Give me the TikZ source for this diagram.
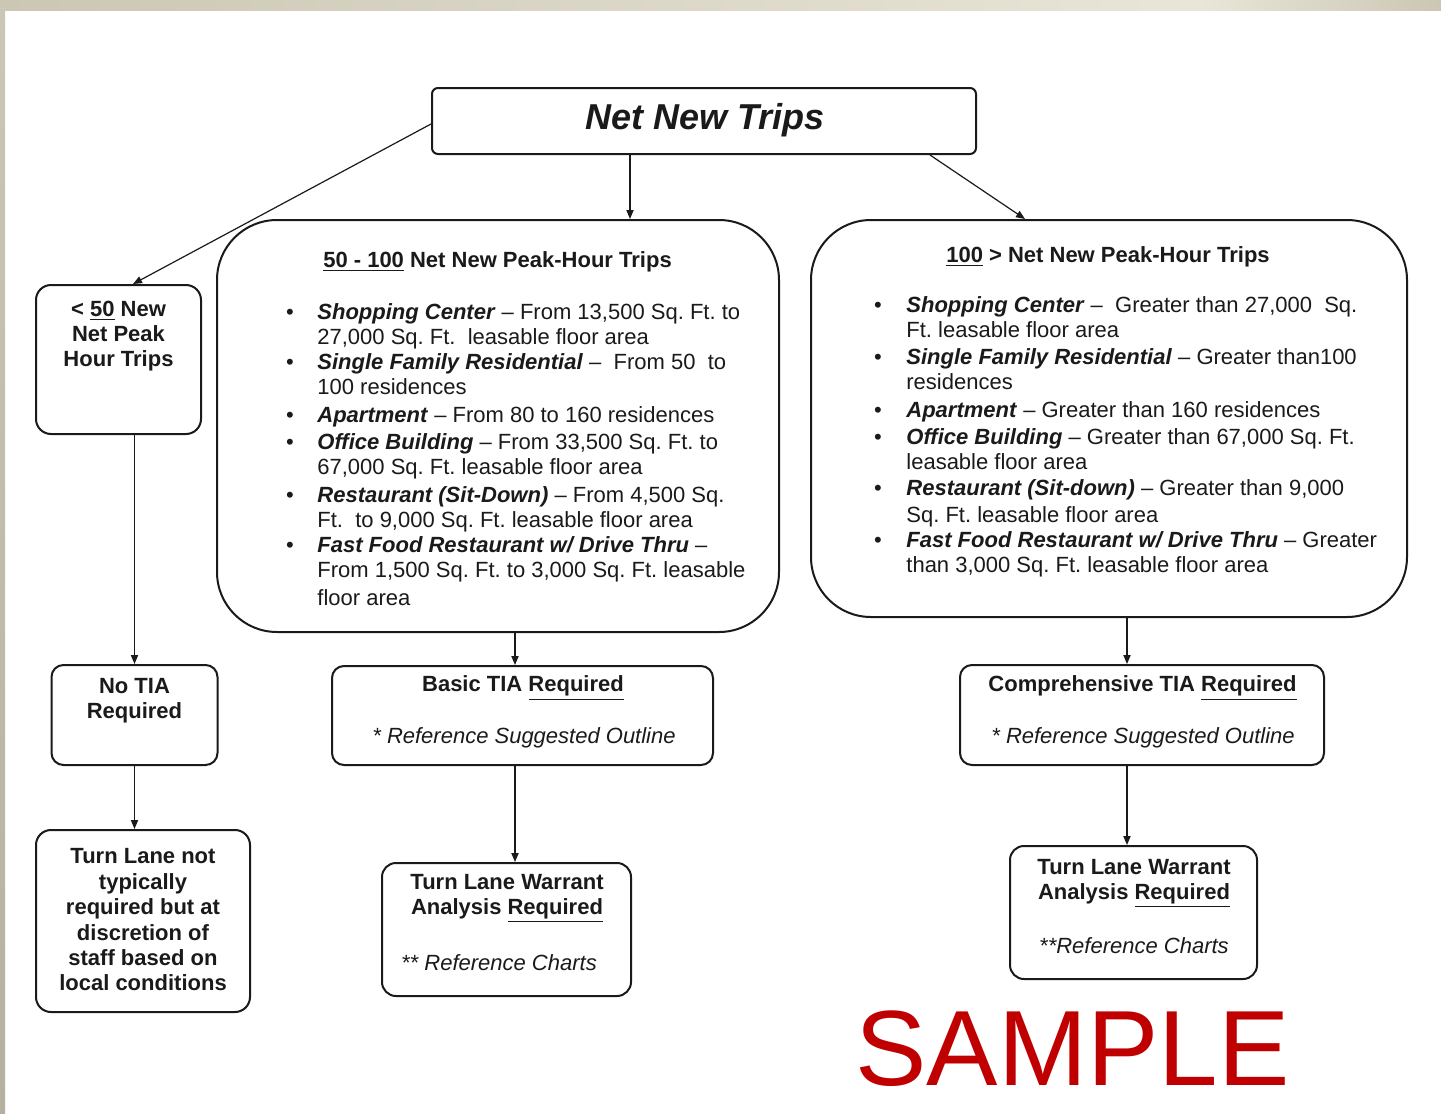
\documentclass[tikz,border=0pt]{standalone}
\usepackage{fontspec}
\setmainfont{Liberation Sans}
\usetikzlibrary{arrows.meta}
\definecolor{sampred}{HTML}{C00000}
\definecolor{bandA}{HTML}{CCC7B4}
\definecolor{bandB}{HTML}{E9E5D8}
\definecolor{edgeC}{HTML}{B5B19E}
\definecolor{ink}{HTML}{1A1A1A}
\tikzset{
  box/.style={draw=ink, line width=1pt, fill=white, inner sep=0pt},
  arr/.style={draw=ink, line width=0.6pt, -{Triangle[length=4.5pt,width=3.6pt]}},
  txt/.style={inner sep=0pt, font=\fontsize{11}{12.5}\selectfont, text=ink},
  btxt/.style={txt, font=\fontsize{11}{12.5}\selectfont\bfseries, align=center},
  ln/.style={txt, anchor=base west},
  bul/.style={txt, anchor=base},
}
\newcommand{\bi}[1]{\textbf{\textit{#1}}}
\frenchspacing
\begin{document}
\begin{tikzpicture}[x=0.5pt,y=-0.5pt]
\useasboundingbox (0,0) rectangle (1441,1114);
% page background and border bands
\fill[white] (0,0) rectangle (1441,1114);
\shade[left color=bandA, right color=bandB] (0,0) rectangle (1200,10);
\shade[left color=bandB, right color=bandA] (1200,0) rectangle (1441,10);
\shade[top color=bandA, bottom color=edgeC] (0,0) rectangle (5,1114);

% boxes
\node[box, rounded corners=3pt, minimum width=272pt, minimum height=33pt] (top) at (704,121) {};
\node[box, rounded corners=7.5pt, minimum width=82.5pt, minimum height=74.5pt] (lt) at (118.5,359.5) {};
\node[box, rounded corners=30pt, minimum width=281pt, minimum height=206pt] (mid) at (498,426) {};
\node[box, rounded corners=30pt, minimum width=298pt, minimum height=198.5pt] (rt) at (1109,418.5) {};
\node[box, rounded corners=6pt, minimum width=83pt, minimum height=50pt] (notia) at (134.5,715) {};
\node[box, rounded corners=6pt, minimum width=190.5pt, minimum height=49.5pt] (basic) at (522.5,715.5) {};
\node[box, rounded corners=6pt, minimum width=182pt, minimum height=50pt] (comp) at (1142,715) {};
\node[box, rounded corners=7.5pt, minimum width=107pt, minimum height=91pt] (tla) at (143,921) {};
\node[box, rounded corners=7pt, minimum width=124.5pt, minimum height=66.5pt] (tlb) at (506.5,929.5) {};
\node[box, rounded corners=7pt, minimum width=123.5pt, minimum height=66.5pt] (tlc) at (1133.5,912.5) {};

% connectors
\draw[arr] ([yshift=-1.5pt]top.west) -- ([xshift=7.25pt]lt.north);
\draw[arr] ([xshift=-37pt]top.south) -- ([xshift=66pt]mid.north);
\draw[arr] ([xshift=113pt]top.south) -- ([xshift=-42pt]rt.north);
\draw[arr] (notia.north |- lt.south) -- (notia.north);
\draw[arr] ([xshift=-3.75pt]basic.north |- mid.south) -- ([xshift=-3.75pt]basic.north);
\draw[arr] ([xshift=-7.5pt]comp.north |- rt.south) -- ([xshift=-7.5pt]comp.north);
\draw[arr] (notia.south) -- (notia.south |- tla.north);
\draw[arr] ([xshift=-3.75pt]basic.south) -- ([xshift=-3.75pt]basic.south |- tlb.north);
\draw[arr] ([xshift=-7.5pt]comp.south) -- ([xshift=-7.5pt]comp.south |- tlc.north);

% top title
\node[txt, font=\fontsize{18}{20}\selectfont\bfseries\itshape] (toptxt) at (705,120) {Net New Trips};

% left box text
\node[btxt] (lttxt) at (118.5,336) {< \underline{50} New\\Net Peak\\Hour Trips};

% middle box
\node[txt, anchor=base, font=\fontsize{11}{12.5}\selectfont\bfseries] (mtitle) at (497.5,267) {\underline{50 - 100} Net New Peak-Hour Trips};
\node[bul] (mb1) at (290,319) {•};
\node[bul] (mb2) at (290,369) {•};
\node[bul] (mb3) at (290,422) {•};
\node[bul] (mb4) at (290,449) {•};
\node[bul] (mb5) at (290,502) {•};
\node[bul] (mb6) at (290,552) {•};
\node[ln] (m1a) at (317,319) {\bi{Shopping Center} – From 13,500 Sq. Ft. to};
\node[ln] (m1b) at (317,344) {27,000 Sq. Ft.\ \ leasable floor area};
\node[ln] (m2a) at (317,369) {\bi{Single Family Residential} –\ \ From 50\ \ to};
\node[ln] (m2b) at (317,394) {100 residences};
\node[ln] (m3a) at (317,422) {\bi{Apartment} – From 80 to 160 residences};
\node[ln] (m4a) at (317,449) {\bi{Office Building} – From 33,500 Sq. Ft. to};
\node[ln] (m4b) at (317,474) {67,000 Sq. Ft. leasable floor area};
\node[ln] (m5a) at (317,502) {\bi{Restaurant (Sit-Down)} – From 4,500 Sq.};
\node[ln] (m5b) at (317,527) {Ft.\ \ to 9,000 Sq. Ft. leasable floor area};
\node[ln] (m6a) at (317,552) {\bi{Fast Food Restaurant w/ Drive Thru} –};
\node[ln] (m6b) at (317,577) {From 1,500 Sq. Ft. to 3,000 Sq. Ft. leasable};
\node[ln] (m6c) at (317,605) {floor area};

% right box
\node[txt, anchor=base, font=\fontsize{11}{12.5}\selectfont\bfseries] (rtitle) at (1108,262) {\underline{100} > Net New Peak-Hour Trips};
\node[bul] (rb1) at (878,312) {•};
\node[bul] (rb2) at (878,364) {•};
\node[bul] (rb3) at (878,417) {•};
\node[bul] (rb4) at (878,444) {•};
\node[bul] (rb5) at (878,495) {•};
\node[bul] (rb6) at (878,547) {•};
\node[ln] (r1a) at (906,312) {\bi{Shopping Center} –\ \ Greater than 27,000\ \ Sq.};
\node[ln] (r1b) at (906,337) {Ft. leasable floor area};
\node[ln] (r2a) at (906,364) {\bi{Single Family Residential} – Greater than100};
\node[ln] (r2b) at (906,389) {residences};
\node[ln] (r3a) at (906,417) {\bi{Apartment} – Greater than 160 residences};
\node[ln] (r4a) at (906,444) {\bi{Office Building} – Greater than 67,000 Sq. Ft.};
\node[ln] (r4b) at (906,469) {leasable floor area};
\node[ln] (r5a) at (906,495) {\bi{Restaurant (Sit-down)} – Greater than 9,000};
\node[ln] (r5b) at (906,522) {Sq. Ft. leasable floor area};
\node[ln] (r6a) at (906,547) {\bi{Fast Food Restaurant w/ Drive Thru} – Greater};
\node[ln] (r6b) at (906,572) {than 3,000 Sq. Ft. leasable floor area};

% second row texts
\node[btxt] (notiatxt) at (134.5,700.5) {No TIA\\Required};
\node[btxt] (basictxt) at (523,688) {Basic TIA \underline{Required}};
\node[txt, font=\fontsize{11}{12.5}\selectfont\itshape] (basicref) at (524,738) {* Reference Suggested Outline};
\node[btxt] (comptxt) at (1142.5,688) {Comprehensive TIA \underline{Required}};
\node[txt, font=\fontsize{11}{12.5}\selectfont\itshape] (compref) at (1143,738) {* Reference Suggested Outline};

% third row texts
\node[btxt, font=\fontsize{11}{12.7}\selectfont\bfseries] (tlatxt) at (143,920) {Turn Lane not\\typically\\required but at\\discretion of\\staff based on\\local conditions};
\node[btxt] (tlbtxt) at (507,898.5) {Turn Lane Warrant\\Analysis \underline{Required}};
\node[txt, font=\fontsize{11}{12.5}\selectfont\itshape] (tlbref) at (499,963) {** Reference Charts};
\node[btxt] (tlctxt) at (1134,883.5) {Turn Lane Warrant\\Analysis \underline{Required}};
\node[txt, font=\fontsize{11}{12.5}\selectfont\itshape] (tlcref) at (1134,946) {**Reference Charts};

% watermark
\node[inner sep=0pt, anchor=base, text=sampred, font=\fontsize{53.5}{60}\selectfont] (sample) at (1072.5,1085) {SAMPLE};
\end{tikzpicture}
\end{document}
